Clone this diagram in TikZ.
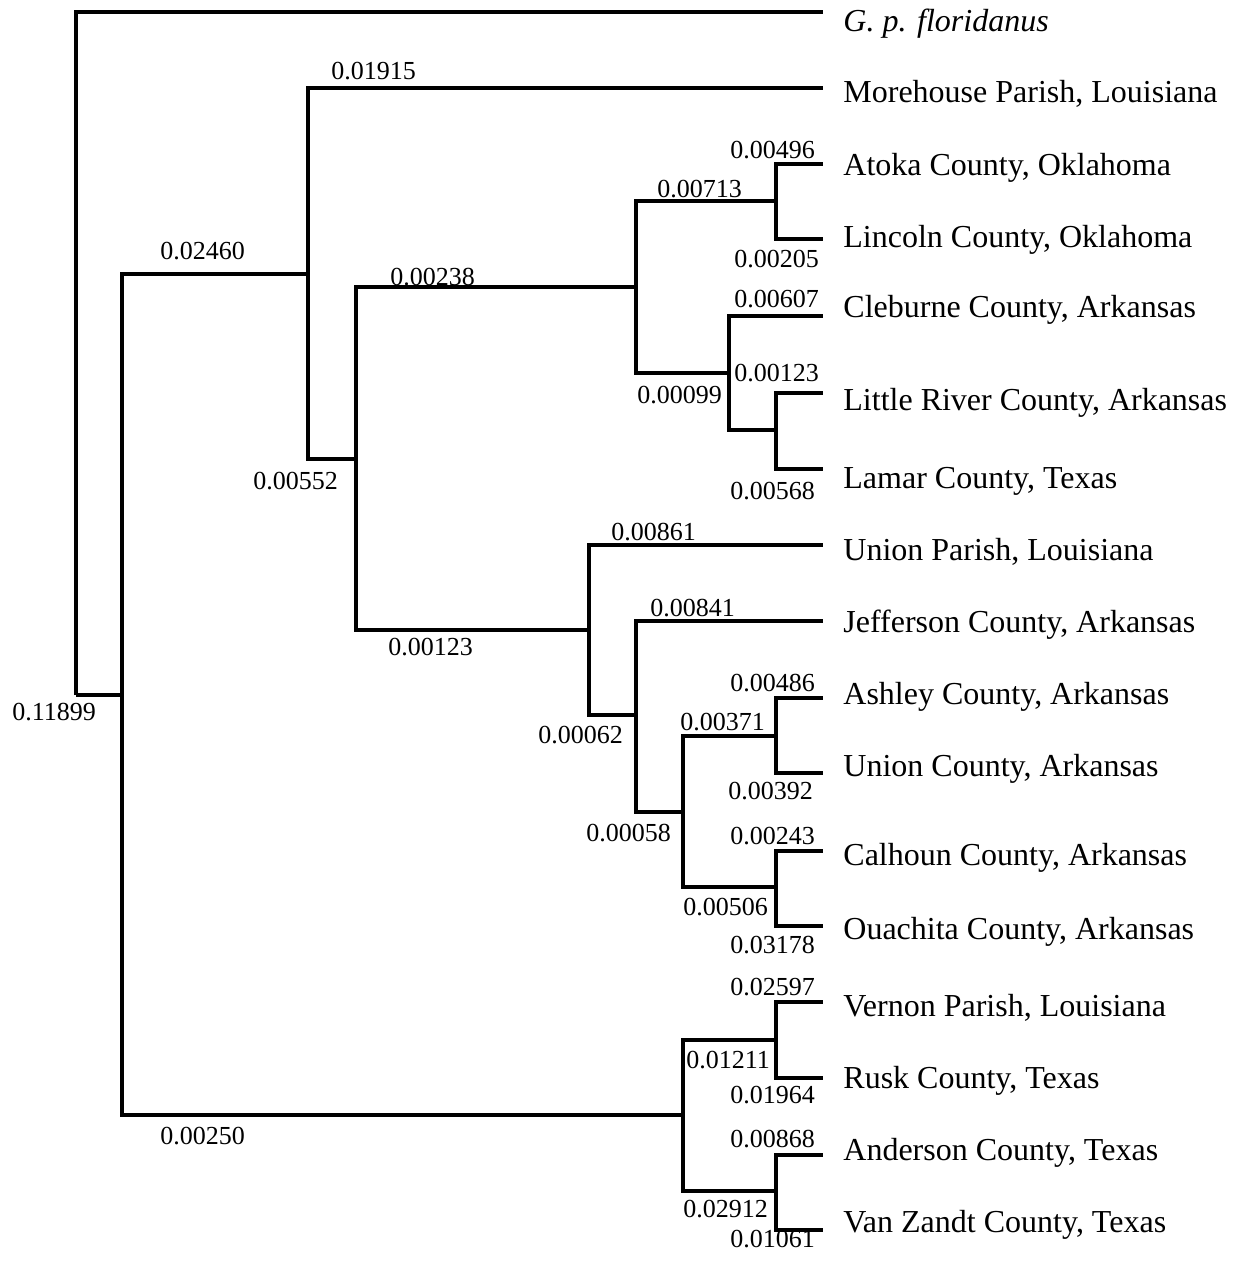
\documentclass[tikz,border=0pt]{standalone}
\usepackage{fontspec}
\setmainfont{Liberation Serif}
\begin{document}
\begin{tikzpicture}[x=0.5pt,y=-0.5pt,
  br/.style={line width=1.6pt},
  leaf/.style={anchor=base west,inner sep=0pt,font=\fontsize{16}{18}\selectfont},
  bl/.style={anchor=base west,inner sep=0pt,font=\fontsize{13}{15}\selectfont}]
\useasboundingbox (0,0) rectangle (1232,1262);
% internal nodes
\coordinate (R) at (76,695);
\coordinate (A) at (122,695);
\coordinate (B) at (308,274);
\coordinate (C) at (356,459);
\coordinate (D) at (636,287);
\coordinate (E) at (776,201);
\coordinate (F) at (729,373);
\coordinate (G) at (776,430);
\coordinate (H) at (589,630);
\coordinate (I) at (636,715);
\coordinate (J) at (683,812);
\coordinate (K) at (776,736);
\coordinate (L) at (776,887);
\coordinate (M) at (683,1115);
\coordinate (N) at (776,1040);
\coordinate (O) at (776,1191);
% tips
\coordinate (t1) at (823,12);
\coordinate (t2) at (823,88);
\coordinate (t3) at (823,164);
\coordinate (t4) at (823,239);
\coordinate (t5) at (823,316);
\coordinate (t6) at (823,393);
\coordinate (t7) at (823,469);
\coordinate (t8) at (823,545);
\coordinate (t9) at (823,621);
\coordinate (t10) at (823,698);
\coordinate (t11) at (823,773);
\coordinate (t12) at (823,851);
\coordinate (t13) at (823,926);
\coordinate (t14) at (823,1002);
\coordinate (t15) at (823,1078);
\coordinate (t16) at (823,1155);
\coordinate (t17) at (823,1230);
% leaf labels
\node[leaf] (l1) at (843,32) {\itshape G. p. floridanus};
\node[leaf] (l2) at (843,103) {Morehouse Parish, Louisiana};
\node[leaf] (l3) at (843,176) {Atoka County, Oklahoma};
\node[leaf] (l4) at (843,248) {Lincoln County, Oklahoma};
\node[leaf] (l5) at (843,318) {Cleburne County, Arkansas};
\node[leaf] (l6) at (843,410) {Little River County, Arkansas};
\node[leaf] (l7) at (843,488) {Lamar County, Texas};
\node[leaf] (l8) at (843,560) {Union Parish, Louisiana};
\node[leaf] (l9) at (843,632) {Jefferson County, Arkansas};
\node[leaf] (l10) at (843,704) {Ashley County, Arkansas};
\node[leaf] (l11) at (843,776) {Union County, Arkansas};
\node[leaf] (l12) at (843,865) {Calhoun County, Arkansas};
\node[leaf] (l13) at (843,939) {Ouachita County, Arkansas};
\node[leaf] (l14) at (843,1016) {Vernon Parish, Louisiana};
\node[leaf] (l15) at (843,1088) {Rusk County, Texas};
\node[leaf] (l16) at (843,1160) {Anderson County, Texas};
\node[leaf] (l17) at (843,1232) {Van Zandt County, Texas};
% branches
\draw[br] (R) |- (t1);
\draw[br] (R) -- (A);
\draw[br] (A) |- (B);
\draw[br] (A) |- (M);
\draw[br] (B) |- (t2);
\draw[br] (B) |- (C);
\draw[br] (C) |- (D);
\draw[br] (C) |- (H);
\draw[br] (D) |- (E);
\draw[br] (D) |- (F);
\draw[br] (E) |- (t3);
\draw[br] (E) |- (t4);
\draw[br] (F) |- (t5);
\draw[br] (F) |- (G);
\draw[br] (G) |- (t6);
\draw[br] (G) |- (t7);
\draw[br] (H) |- (t8);
\draw[br] (H) |- (I);
\draw[br] (I) |- (t9);
\draw[br] (I) |- (J);
\draw[br] (J) |- (K);
\draw[br] (J) |- (L);
\draw[br] (K) |- (t10);
\draw[br] (K) |- (t11);
\draw[br] (L) |- (t12);
\draw[br] (L) |- (t13);
\draw[br] (M) |- (N);
\draw[br] (M) |- (O);
\draw[br] (N) |- (t14);
\draw[br] (N) |- (t15);
\draw[br] (O) |- (t16);
\draw[br] (O) |- (t17);
% branch length labels
\node[bl] (b1) at (12,720) {0.11899};
\node[bl] (b2) at (160,260) {0.02460};
\node[bl] (b3) at (160,1144) {0.00250};
\node[bl] (b4) at (331,80) {0.01915};
\node[bl] (b5) at (253,489) {0.00552};
\node[bl] (b6) at (390,286) {0.00238};
\node[bl] (b7) at (388,655) {0.00123};
\node[bl] (b8) at (657,198) {0.00713};
\node[bl] (b9) at (730,159) {0.00496};
\node[bl] (b10) at (734,268) {0.00205};
\node[bl] (b11) at (734,307) {0.00607};
\node[bl] (b12) at (734,381) {0.00123};
\node[bl] (b13) at (637,403) {0.00099};
\node[bl] (b14) at (730,499) {0.00568};
\node[bl] (b15) at (611,540) {0.00861};
\node[bl] (b16) at (650,616) {0.00841};
\node[bl] (b17) at (538,743) {0.00062};
\node[bl] (b18) at (730,691) {0.00486};
\node[bl] (b19) at (680,730) {0.00371};
\node[bl] (b20) at (728,799) {0.00392};
\node[bl] (b21) at (586,841) {0.00058};
\node[bl] (b22) at (730,844) {0.00243};
\node[bl] (b23) at (683,915) {0.00506};
\node[bl] (b24) at (730,953) {0.03178};
\node[bl] (b25) at (730,995) {0.02597};
\node[bl] (b26) at (686,1068) {0.01211};
\node[bl] (b27) at (730,1103) {0.01964};
\node[bl] (b28) at (730,1147) {0.00868};
\node[bl] (b29) at (683,1217) {0.02912};
\node[bl] (b30) at (730,1247) {0.01061};
\end{tikzpicture}
\end{document}
